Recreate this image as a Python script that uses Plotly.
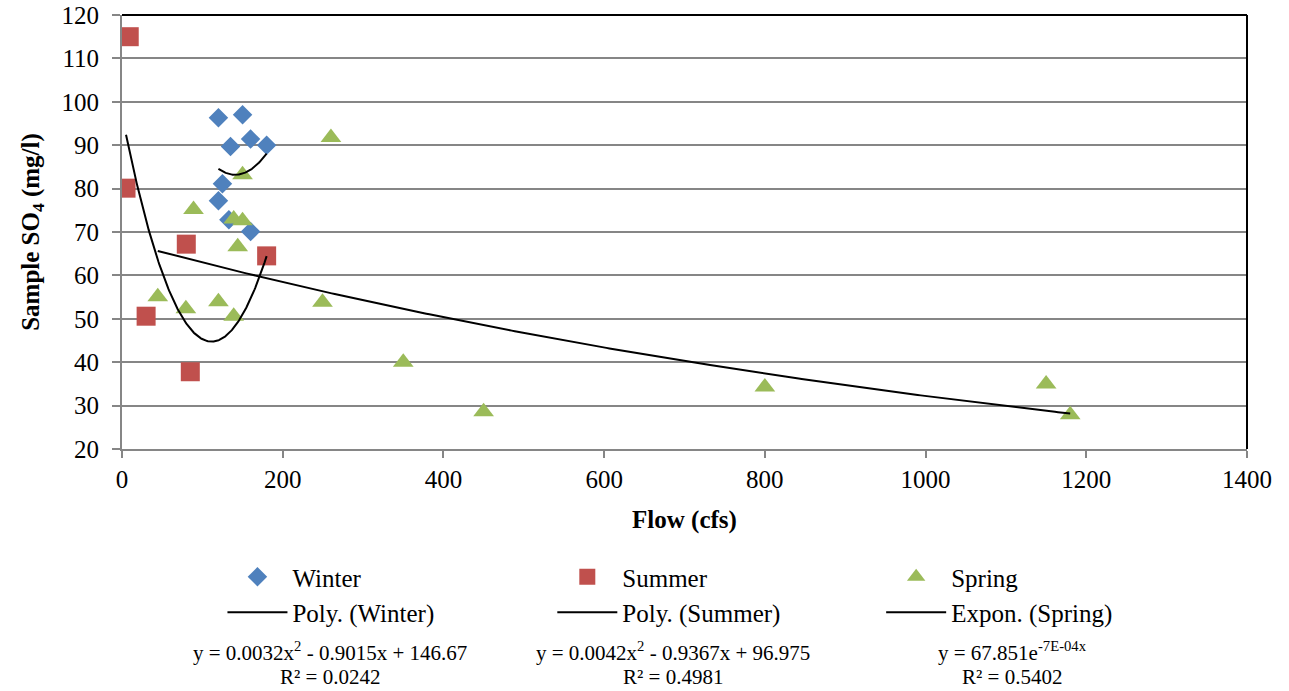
import numpy as np
import plotly.graph_objects as go

# ---- data ----
winter_flow = [120, 150, 135, 160, 180, 125, 120, 133, 160]
winter_so4 = [96.3, 97.0, 89.7, 91.4, 90.0, 81.1, 77.2, 72.8, 70.1]

summer_flow = [9, 5, 80, 30, 85, 180]
summer_so4 = [115.0, 80.1, 67.2, 50.6, 37.8, 64.5]

spring_flow = [260, 150, 89, 139, 150, 144, 44.5, 79.5, 120, 139, 249.5, 350, 450, 800, 1150, 1180]
spring_so4 = [91.8, 83.2, 75.2, 73.0, 72.6, 66.6, 55.1, 52.3, 53.9, 50.6, 53.8, 40.0, 28.6, 34.3, 35.0, 27.9]

# trend-line coefficients (as on the chart; spring exponent unrounded to follow the drawn curve)
winter_poly = [0.0032, -0.9015, 146.67]
summer_poly = [0.0042, -0.9367, 96.975]
spring_exp = [67.851, -7.45e-4]

eq_lines = [
    ("y = 0.0032x<sup>2</sup> - 0.9015x + 146.67", "R² = 0.0242"),
    ("y = 0.0042x<sup>2</sup> - 0.9367x + 96.975", "R² = 0.4981"),
    ("y = 67.851e<sup>-7E-04x</sup>", "R² = 0.5402"),
]

x_ticks = [0, 200, 400, 600, 800, 1000, 1200, 1400]
y_ticks = [20, 30, 40, 50, 60, 70, 80, 90, 100, 110, 120]

FONT = "Liberation Serif"
W, H = 1289, 691
# plot-area edges in page pixels (body margin removed below)
L, R, T, B = 121.5, 1247, 15, 449
PW, PH = R - L, B - T


def px_x(page_x):
    return (page_x - L) / PW


def px_y(page_y):
    return (B - page_y) / PH


fig = go.Figure()
fig.add_trace(go.Scatter(x=winter_flow, y=winter_so4, mode="markers", name="Winter",
                         legend="legend",
                         marker=dict(symbol="diamond", size=15, color="#4F81BD")))
fig.add_trace(go.Scatter(x=summer_flow, y=summer_so4, mode="markers", name="Summer",
                         legend="legend2",
                         marker=dict(symbol="square", size=19, color="#C0504D")))
fig.add_trace(go.Scatter(x=spring_flow, y=spring_so4, mode="markers", name="Spring",
                         legend="legend3",
                         marker=dict(symbol="triangle-up", size=18, color="#9BBB59")))

wx = np.linspace(min(winter_flow), max(winter_flow), 100)
fig.add_trace(go.Scatter(x=wx, y=np.polyval(winter_poly, wx), mode="lines", name="Poly. (Winter)",
                         legend="legend", line=dict(color="black", width=2)))
sx = np.linspace(min(summer_flow), max(summer_flow), 200)
fig.add_trace(go.Scatter(x=sx, y=np.polyval(summer_poly, sx), mode="lines", name="Poly. (Summer)",
                         legend="legend2", line=dict(color="black", width=2)))
gx = np.linspace(min(spring_flow), max(spring_flow), 300)
fig.add_trace(go.Scatter(x=gx, y=spring_exp[0] * np.exp(spring_exp[1] * gx), mode="lines",
                         name="Expon. (Spring)", legend="legend3",
                         line=dict(color="black", width=2)))

grid = "#868686"
fig.update_xaxes(range=[0, 1400], tickvals=x_ticks, showgrid=False, zeroline=False,
                 showline=True, linecolor=grid, linewidth=2, ticks="outside", ticklen=7,
                 tickcolor=grid, tickwidth=1.5, ticklabeloverflow="allow",
                 tickfont=dict(size=25, family=FONT, color="black"),
                 title=dict(text="<b>Flow (cfs)</b>", font=dict(size=25, family=FONT, color="black"),
                            standoff=18))
fig.update_yaxes(range=[20, 120], tickvals=y_ticks, showgrid=True, gridcolor=grid, gridwidth=1.5,
                 zeroline=False, showline=True, linecolor=grid, linewidth=2, ticks="outside",
                 ticklen=8, tickcolor=grid, tickwidth=1.5, ticklabelstandoff=8,
                 ticklabeloverflow="allow",
                 tickfont=dict(size=25, family=FONT, color="black"),
                 title=dict(text="<b>Sample SO<sub>4</sub> (mg/l)</b>",
                            font=dict(size=25, family=FONT, color="black"), standoff=15))

# top and right frame lines
fig.add_shape(type="line", xref="paper", yref="paper", x0=0, x1=1, y0=1, y1=1,
              line=dict(color="black", width=2))
fig.add_shape(type="line", xref="paper", yref="paper", x0=1, x1=1, y0=0, y1=1,
              line=dict(color="black", width=2))

for xc, (eq, r2) in zip([330, 673, 1012], eq_lines):
    for yc, txt in [(651, eq), (677, r2)]:
        fig.add_annotation(x=px_x(xc), y=px_y(yc), xref="paper", yref="paper", text=txt,
                           showarrow=False, align="center", xanchor="center", yanchor="middle",
                           font=dict(size=21, family=FONT, color="black"))

leg_common = dict(orientation="v", xanchor="left", yanchor="top", itemwidth=60,
                  font=dict(size=25, family=FONT, color="black"), bgcolor="rgba(0,0,0,0)",
                  borderwidth=0)
fig.update_layout(
    width=W, height=H,
    margin=dict(l=L, r=W - R, t=T, b=H - B, autoexpand=False),
    plot_bgcolor="white", paper_bgcolor="white",
    font=dict(family=FONT, color="black"),
    legend=dict(x=px_x(222), y=px_y(554), **leg_common),
    legend2=dict(x=px_x(552), y=px_y(554), **leg_common),
    legend3=dict(x=px_x(881), y=px_y(554), **leg_common),
)

fig.write_html("out.html", config={"displayModeBar": False},
               post_script="document.body.style.margin='0px';document.body.style.overflow='hidden';")
